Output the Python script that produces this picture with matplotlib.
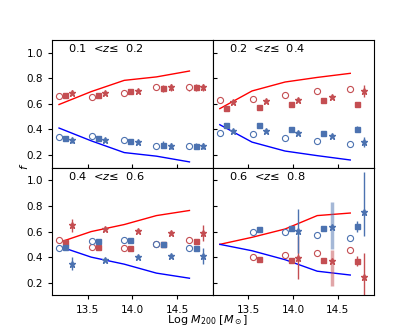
import numpy as np
import matplotlib
matplotlib.use('Agg')
import matplotlib.pyplot as plt

nan = np.nan

# Bin positions (log M200) for each marker type and for the model lines
x_line = [13.18, 13.54, 13.91, 14.27, 14.64]
x_circ = [13.18, 13.55, 13.91, 14.27, 14.64]
x_sq = [13.25, 13.62, 13.98, 14.34, 14.71]
x_star = [13.33, 13.70, 14.06, 14.43, 14.79]

titles = ['0.1  <$z$\u2264  0.2', '0.2  <$z$\u2264  0.4',
          '0.4  <$z$\u2264  0.6', '0.6  <$z$\u2264  0.8']

# Model lines
red_line = [[0.594, 0.695, 0.783, 0.81, 0.856],
            [0.562, 0.70, 0.77, 0.806, 0.838],
            [0.515, 0.60, 0.655, 0.725, 0.765],
            [0.50, 0.555, 0.62, 0.725, 0.745]]
blue_line = [[0.41, 0.31, 0.218, 0.19, 0.145],
             [0.436, 0.30, 0.23, 0.194, 0.16],
             [0.485, 0.40, 0.345, 0.275, 0.235],
             [0.50, 0.45, 0.38, 0.29, 0.26]]

# Open circles
red_circ = [[0.659, 0.651, 0.688, 0.73, 0.728],
            [0.628, 0.64, 0.669, 0.696, 0.717],
            [0.535, 0.478, 0.47, 0.50, 0.532],
            [nan, 0.404, 0.415, 0.435, 0.456]]
blue_circ = [[0.342, 0.346, 0.313, 0.268, 0.268],
             [0.373, 0.36, 0.334, 0.305, 0.283],
             [0.47, 0.525, 0.532, 0.50, 0.47],
             [nan, 0.60, 0.595, 0.574, 0.553]]
err_circ = [[0.008, 0.008, 0.008, 0.012, 0.025],
            [0.006, 0.006, 0.006, 0.006, 0.008],
            [0.006, 0.006, 0.006, 0.006, 0.01],
            [nan, 0.008, 0.008, 0.01, 0.02]]

# Filled squares
red_sq = [[0.672, 0.665, 0.70, 0.72, 0.728],
          [0.567, 0.572, 0.596, 0.633, 0.596],
          [0.52, 0.478, 0.47, 0.50, 0.527],
          [nan, 0.388, 0.38, 0.378, 0.368]]
blue_sq = [[0.334, 0.334, 0.305, 0.28, 0.27],
           [0.433, 0.43, 0.405, 0.37, 0.405],
           [0.48, 0.525, 0.532, 0.50, 0.473],
           [nan, 0.619, 0.627, 0.629, 0.64]]
err_sq = [[0.012, 0.012, 0.012, 0.025, 0.025],
          [0.008, 0.008, 0.008, 0.01, 0.02],
          [0.008, 0.008, 0.008, 0.008, 0.012],
          [nan, 0.01, 0.01, 0.012, 0.04]]

# Stars (asymmetric errors: lower, upper)
red_star = [[0.688, 0.685, 0.70, 0.728, 0.728],
            [0.614, 0.62, 0.63, 0.651, 0.70],
            [0.65, 0.619, 0.603, 0.59, 0.59],
            [nan, nan, 0.396, 0.373, 0.242]]
blue_star = [[0.313, 0.313, 0.30, 0.268, 0.268],
             [0.383, 0.383, 0.373, 0.35, 0.30],
             [0.35, 0.381, 0.40, 0.41, 0.41],
             [nan, nan, 0.605, 0.634, 0.757]]
red_star_lo = [[0.02, 0.015, 0.015, 0.025, 0.025],
               [0.015, 0.012, 0.012, 0.012, 0.045],
               [0.05, 0.01, 0.01, 0.015, 0.06],
               [nan, nan, 0.17, 0.2, 0.31]]
red_star_hi = [[0.02, 0.015, 0.015, 0.025, 0.025],
               [0.015, 0.012, 0.012, 0.012, 0.045],
               [0.05, 0.01, 0.01, 0.015, 0.06],
               [nan, nan, 0.17, 0.085, 0.19]]
blue_star_lo = [[0.02, 0.015, 0.015, 0.025, 0.025],
                [0.015, 0.012, 0.012, 0.012, 0.04],
                [0.05, 0.01, 0.01, 0.015, 0.06],
                [nan, nan, 0.17, 0.17, 0.19]]
blue_star_hi = [[0.02, 0.015, 0.015, 0.025, 0.025],
                [0.015, 0.012, 0.012, 0.012, 0.04],
                [0.05, 0.01, 0.01, 0.015, 0.06],
                [nan, nan, 0.17, 0.2, 0.31]]
# bins whose star error bars are drawn faint and wide
faint_bins = [[], [], [], [3]]

c_red = '#c44e52'
c_blue = '#4c72b0'

fig, axes = plt.subplots(2, 2, figsize=(4.15, 3.32), dpi=100, sharex=True, sharey=True)
plt.subplots_adjust(hspace=0, wspace=0)


def draw_stars(ax, y, lo, hi, color, faint):
    for i in range(len(x_star)):
        if np.isnan(y[i]):
            continue
        if i in faint:
            ax.errorbar(x_star[i], y[i], yerr=[[lo[i]], [hi[i]]], fmt='none',
                        ecolor=color, elinewidth=2.5, alpha=0.5, capsize=0)
            ax.plot(x_star[i], y[i], marker='*', color=color, ms=4.5, ls='none')
        else:
            ax.errorbar(x_star[i], y[i], yerr=[[lo[i]], [hi[i]]], fmt='*',
                        color=color, ms=4.5, elinewidth=1, capsize=0)


for k, ax in enumerate(axes.flat):
    ax.plot(x_line, red_line[k], color='red', lw=1)
    ax.plot(x_line, blue_line[k], color='blue', lw=1)

    for y, c in [(red_circ[k], c_red), (blue_circ[k], c_blue)]:
        ax.errorbar(x_circ, y, yerr=err_circ[k], fmt='o', mfc='white', mec=c,
                    ecolor=c, ms=4.4, mew=0.8, elinewidth=1, capsize=0)
    for y, c in [(red_sq[k], c_red), (blue_sq[k], c_blue)]:
        ax.errorbar(x_sq, y, yerr=err_sq[k], fmt='s', color=c,
                    ms=3.6, elinewidth=1, capsize=0)

    draw_stars(ax, red_star[k], red_star_lo[k], red_star_hi[k], c_red, faint_bins[k])
    draw_stars(ax, blue_star[k], blue_star_lo[k], blue_star_hi[k], c_blue, faint_bins[k])

    ax.text(0.1, 0.935, titles[k], transform=ax.transAxes, fontsize=8.2, va='center')
    ax.set_xlim(13.1, 14.9)
    ax.set_ylim(0.1, 1.1)
    ax.set_xticks([13.5, 14.0, 14.5])
    ax.set_yticks([0.2, 0.4, 0.6, 0.8, 1.0])
    ax.tick_params(labelsize=7.5, length=3, width=0.8)
    for s in ax.spines.values():
        s.set_linewidth(0.8)

# inward ticks on the inner edges
for ax in axes[0]:
    ax.tick_params(axis='x', direction='in')
for ax in axes[:, 1]:
    ax.tick_params(axis='y', direction='in')

fig.text(0.058, 0.5, '$f$', rotation=90, fontsize=8, va='center', ha='center')
fig.text(0.5, 0.035, r'Log $M_{200}$ [$M_\odot$]', fontsize=8, ha='center', va='center')

plt.savefig('out.png', dpi=100)
